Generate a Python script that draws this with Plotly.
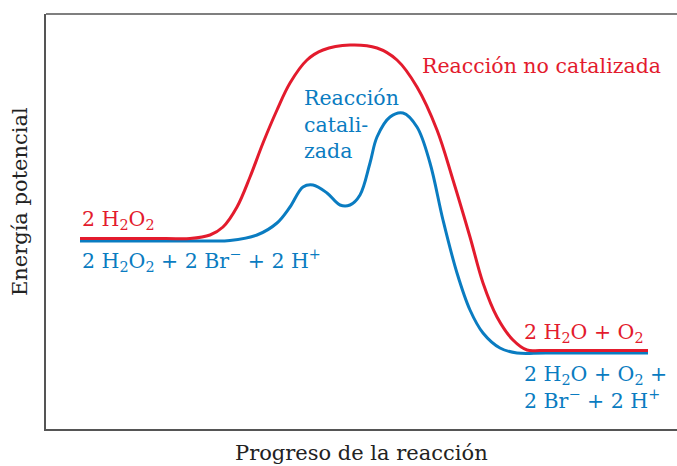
import plotly.graph_objects as go

# Energy profile (x = reaction progress, y = potential energy)
uncat_x = [34, 120, 144, 164, 177, 191, 204, 217, 231, 244, 261, 277, 304, 331, 351, 371, 391, 407, 424, 437, 451, 467, 481, 494, 520, 602]
uncat_y = [190.5, 190.5, 190.5, 194, 202, 222, 252, 286, 319, 346, 369, 379, 384, 381, 369, 342, 299, 249, 192, 146, 112, 89, 79, 78.5, 78.5, 78.5]

cat_x = [34, 160, 184, 211, 231, 244, 257, 267, 281, 294, 304, 314, 324, 331, 344, 357, 371, 384, 397, 411, 424, 437, 454, 471, 500, 602]
cat_y = [188, 188, 188.5, 194, 206, 222, 242, 244, 236, 224, 224, 234, 266, 292, 312, 316, 302, 266, 209, 156, 119, 96, 81, 76, 76, 76]

RED = "#E31B2D"
BLUE = "#0A7CC1"
FONT = "DejaVu Serif"
FRAME = "#555"

fig = go.Figure()

fig.add_trace(go.Scatter(x=cat_x, y=cat_y, mode="lines",
                         line=dict(color=BLUE, width=3, shape="spline", smoothing=1.0),
                         showlegend=False, hoverinfo="skip"))
fig.add_trace(go.Scatter(x=uncat_x, y=uncat_y, mode="lines",
                         line=dict(color=RED, width=3, shape="spline", smoothing=1.0),
                         showlegend=False, hoverinfo="skip"))

labels = [
    (34, 209, "2 H<sub>2</sub>O<sub>2</sub>", RED),
    (34, 169, "2 H<sub>2</sub>O<sub>2</sub> + 2 Br<sup>−</sup> + 2 H<sup>+</sup>", BLUE),
    (256, 305, "Reacción<br>catali-<br>zada", BLUE),
    (374, 363, "Reacción no catalizada", RED),
    (476, 96, "2 H<sub>2</sub>O + O<sub>2</sub>", RED),
    (476, 42, "2 H<sub>2</sub>O + O<sub>2</sub> +<br>2 Br<sup>−</sup> + 2 H<sup>+</sup>", BLUE),
]
for x, y, txt, col in labels:
    fig.add_annotation(x=x, y=y, text=txt, showarrow=False, xanchor="left", yanchor="middle",
                       align="left", font=dict(family=FONT, size=20.5, color=col))

# axis titles
fig.add_annotation(xref="paper", yref="paper", x=-0.041, y=0.547, text="Energía potencial",
                   textangle=-90, showarrow=False, xanchor="center", yanchor="middle",
                   font=dict(family=FONT, size=21, color="#222"))
fig.add_annotation(xref="paper", yref="paper", x=0.5, y=-0.058, text="Progreso de la reacción",
                   showarrow=False, xanchor="center", yanchor="middle",
                   font=dict(family=FONT, size=21, color="#222"))

# top edge of the frame (the reference has no right edge)
fig.add_shape(type="line", xref="paper", yref="paper", x0=0, x1=1, y0=1, y1=1,
              line=dict(color=FRAME, width=1.5))

fig.update_layout(
    width=677, height=466,
    margin=dict(l=46, r=0, t=14, b=37),
    plot_bgcolor="white", paper_bgcolor="white",
    xaxis=dict(range=[0, 631], showgrid=False, zeroline=False, showticklabels=False, ticks="",
               showline=True, linecolor=FRAME, linewidth=1.5),
    yaxis=dict(range=[0, 415], showgrid=False, zeroline=False, showticklabels=False, ticks="",
               showline=True, linecolor=FRAME, linewidth=1.5),
)

# drop the page's default body margin so the figure sits at the top-left corner
fig.write_html("out.html", config={"displayModeBar": False},
               post_script="document.body.style.margin='0';")
